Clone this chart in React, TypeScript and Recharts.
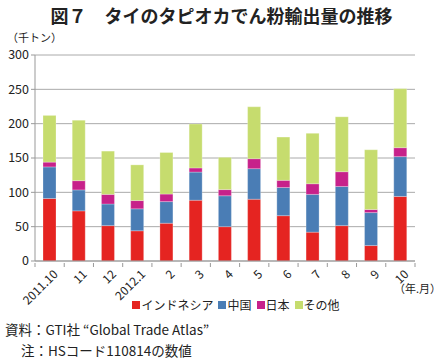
import React from 'react';
import { BarChart, Bar, XAxis, YAxis, CartesianGrid } from 'recharts';

const months = ['2011.10', '11', '12', '2012.1', '2', '3', '4', '5', '6', '7', '8', '9', '10'];
const indonesia = [91, 73, 51.5, 44, 55, 88.5, 50, 90, 66, 42, 51.5, 22.5, 94];
const china = [46, 30.5, 31.5, 32, 31.5, 41, 45, 44.5, 41, 55, 57, 48, 58];
const japan = [7, 13.5, 14, 12, 11, 6, 9, 14.5, 10.5, 15.5, 21.5, 4.5, 13];
const others = [68, 88, 63, 52, 60.5, 64, 47, 75.5, 63, 73.5, 80, 87, 86];
const yTicks = [0, 50, 100, 150, 200, 250, 300];

const series = [
  { key: 'indonesia', name: 'インドネシア', color: '#e52421' },
  { key: 'china', name: '中国', color: '#4a7db5' },
  { key: 'japan', name: '日本', color: '#c7218a' },
  { key: 'others', name: 'その他', color: '#c6dc6e' },
];

const data = months.map((m, i) => ({
  month: m,
  indonesia: indonesia[i],
  china: china[i],
  japan: japan[i],
  others: others[i],
}));

const FONT = '"Noto Sans CJK JP", "Noto Sans", sans-serif';
const STEP = 380 / months.length;

const MonthTick = ({ x, y, payload, index }: any) => (
  <g>
    <line x1={x - STEP / 2} y1={y} x2={x - STEP / 2} y2={y + 4} stroke="#999" />
    {index === months.length - 1 && (
      <line x1={x + STEP / 2} y1={y} x2={x + STEP / 2} y2={y + 4} stroke="#999" />
    )}
    <text
      transform={`translate(${x + 6},${y + 9}) rotate(-45)`}
      textAnchor="end"
      dy="0.35em"
      fontSize={12}
      fill="#222"
      fontFamily={FONT}
    >
      {payload.value}
    </text>
  </g>
);

const App = () => {
  return (
    <div style={{ position: 'absolute', left: 0, top: 0, width: 443, height: 363, background: '#fff', fontFamily: FONT, color: '#222' }}>
      <div style={{ position: 'absolute', left: 0, top: 3, width: 443, textAlign: 'center', fontSize: 18, fontWeight: 'bold', lineHeight: '24px' }}>
        図７　タイのタピオカでん粉輸出量の推移
      </div>
      <div style={{ position: 'absolute', left: 7, top: 29, fontSize: 11, lineHeight: '16px' }}>（千トン）</div>
      <div style={{ position: 'absolute', left: 0, top: 0 }}>
        <BarChart width={443} height={363} data={data} margin={{ top: 55, right: 28, left: 0, bottom: 62 }}>
          <CartesianGrid vertical={false} stroke="#aaa" />
          <XAxis
            dataKey="month"
            stroke="#999"
            tickLine={false}
            tickSize={0}
            tick={<MonthTick />}
            interval={0}
            height={40}
          />
          <YAxis
            domain={[0, 300]}
            ticks={yTicks}
            width={35}
            stroke="#999"
            tickSize={4}
            tickMargin={2}
            tick={{ fill: '#222', fontSize: 12.5, fontFamily: FONT }}
          />
          {series.map((s) => (
            <Bar
              key={s.key}
              dataKey={s.key}
              name={s.name}
              stackId="a"
              fill={s.color}
              barSize={13}
              stroke="rgba(255,255,255,0.5)"
              strokeWidth={0.5}
              isAnimationActive={false}
            />
          ))}
        </BarChart>
      </div>
      <div style={{ position: 'absolute', left: 394, top: 281, fontSize: 11, lineHeight: '14px' }}>（年.月）</div>
      <div style={{ position: 'absolute', left: 0, top: 297, width: 443, display: 'flex', justifyContent: 'center', fontSize: 12, lineHeight: '16px', paddingLeft: 34, boxSizing: 'border-box' }}>
        {series.map((s) => (
          <span key={s.key} style={{ display: 'inline-flex', alignItems: 'center', marginRight: 5 }}>
            <span style={{ width: 8, height: 8, background: s.color, display: 'inline-block', marginRight: 1 }} />
            {s.name}
          </span>
        ))}
      </div>
      <div style={{ position: 'absolute', left: 5, top: 320, fontSize: 13.5, lineHeight: '18px' }}>資料：GTI社 “Global Trade Atlas”</div>
      <div style={{ position: 'absolute', left: 21, top: 341, fontSize: 13.5, lineHeight: '18px' }}>注：HSコード110814の数値</div>
    </div>
  );
};

export default App;
